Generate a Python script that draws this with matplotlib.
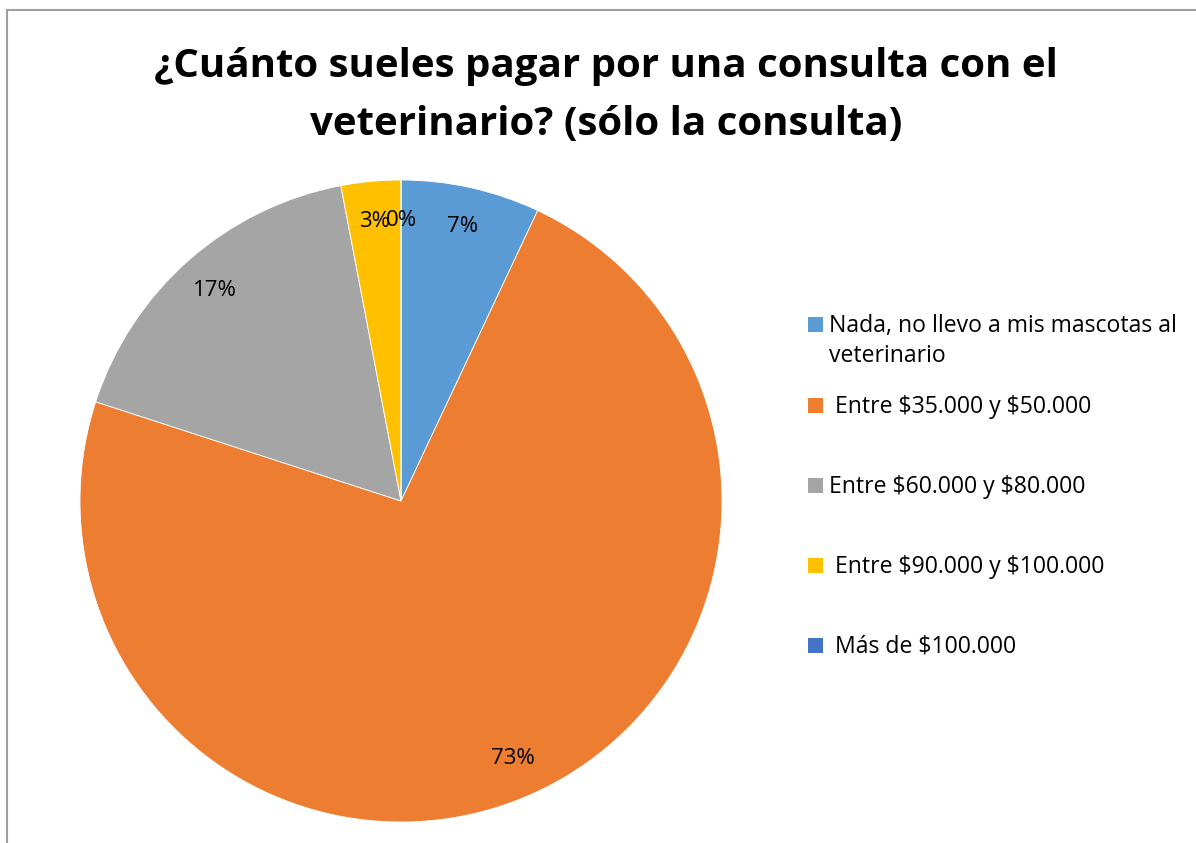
import matplotlib.pyplot as plt
from matplotlib.patches import Rectangle

# data
categories = [
    "Nada, no llevo a mis mascotas al\nveterinario",
    " Entre \\$35.000 y \\$50.000",
    "Entre \\$60.000 y \\$80.000",
    " Entre \\$90.000 y \\$100.000",
    " Más de \\$100.000",
]
percentages = [7, 73, 17, 3, 0]
colors = ["#5B9BD5", "#ED7D31", "#A5A5A5", "#FFC000", "#4472C4"]

title_lines = ["¿Cuánto sueles pagar por una consulta con el",
               "veterinario? (sólo la consulta)"]

plt.rcParams["font.family"] = ["Open Sans", "DejaVu Sans"]

W, H = 1196, 843
fig = plt.figure(figsize=(W / 100, H / 100), dpi=100)

# chart frame (cropped at right/bottom)
fig.patches.append(Rectangle((7 / W, -0.1), 1.2, 1 - 10 / H + 0.1,
                             transform=fig.transFigure, fill=False,
                             edgecolor="#A0A0A0", linewidth=1.5))

# pie
cx, cy, r = 401, 501, 321
ax = fig.add_axes([(cx - r) / W, (H - cy - r) / H, 2 * r / W, 2 * r / H])
ax.pie(percentages, colors=colors, startangle=90, counterclock=False,
       autopct=lambda p: f"{p:.0f}%", pctdistance=0.875,
       wedgeprops=dict(edgecolor="white", linewidth=0.6),
       textprops=dict(fontsize=16, color="black"))
ax.set_xlim(-1, 1)
ax.set_ylim(-1, 1)
ax.set_aspect("equal")
ax.axis("off")

for line, base in zip(title_lines, [77, 135]):
    fig.text(606 / W, 1 - base / H, line, ha="center", va="baseline",
             fontsize=29, fontweight="bold")

# legend
baselines = [332, 413, 493, 573, 653]
for lab, col, b in zip(categories, colors, baselines):
    fig.patches.append(Rectangle((808 / W, 1 - b / H), 15 / W, 15 / H,
                                 transform=fig.transFigure, facecolor=col,
                                 edgecolor="none"))
    for k, part in enumerate(lab.split("\n")):
        fig.text(829 / W, 1 - (b + 30 * k) / H, part, ha="left",
                 va="baseline", fontsize=16.6)

fig.savefig("out.png", dpi=100)
